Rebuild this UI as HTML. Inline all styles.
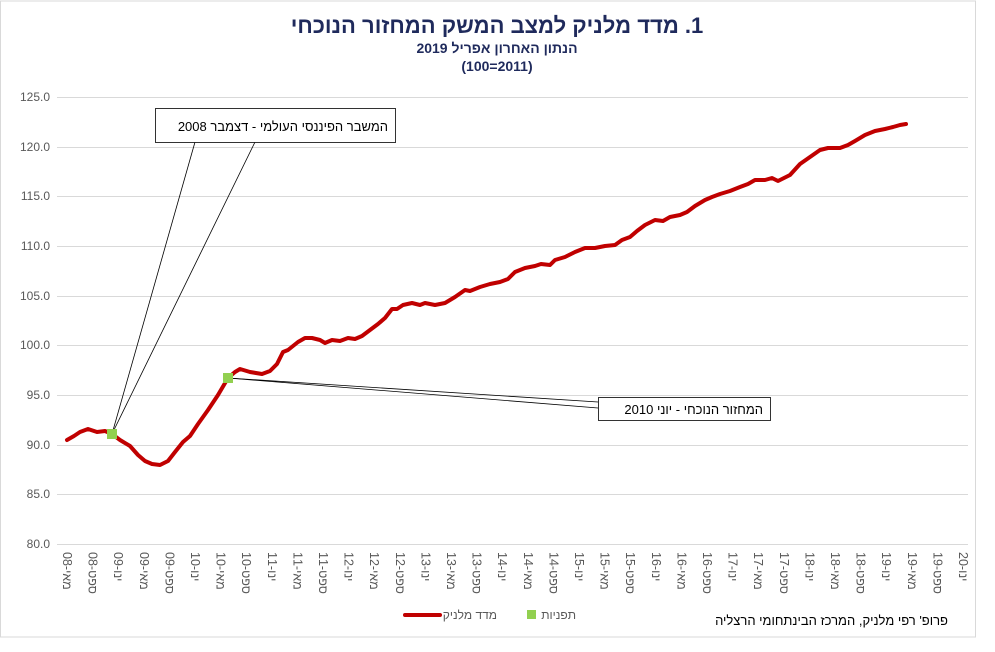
<!DOCTYPE html>
<html><head><meta charset="utf-8"><style>
html,body{margin:0;padding:0;background:#fff;}
svg{display:block;font-family:"Liberation Sans","Noto Sans CJK SC",sans-serif;}
</style></head><body>
<svg width="995" height="652" viewBox="0 0 995 652" xmlns="http://www.w3.org/2000/svg">
<rect x="0.5" y="1" width="975" height="636" fill="#fff" stroke="#d9d9d9"/>
<text x="497" y="33" text-anchor="middle" font-size="22" font-weight="bold" fill="#1f2a5c" direction="rtl">1. מדד מלניק למצב המשק המחזור הנוכחי</text>
<text x="497" y="53" text-anchor="middle" font-size="14" font-weight="bold" fill="#1f2a5c" direction="rtl">הנתון האחרון אפריל 2019</text>
<text x="497" y="71" text-anchor="middle" font-size="14" font-weight="bold" fill="#1f2a5c">(100=2011)</text>
<g stroke="#d9d9d9" stroke-width="1">
<line x1="57" x2="968" y1="97.5" y2="97.5"/><line x1="57" x2="968" y1="147.5" y2="147.5"/>
<line x1="57" x2="968" y1="196.5" y2="196.5"/><line x1="57" x2="968" y1="246.5" y2="246.5"/>
<line x1="57" x2="968" y1="296.5" y2="296.5"/><line x1="57" x2="968" y1="345.5" y2="345.5"/>
<line x1="57" x2="968" y1="395.5" y2="395.5"/><line x1="57" x2="968" y1="445.5" y2="445.5"/>
<line x1="57" x2="968" y1="494.5" y2="494.5"/><line x1="57" x2="968" y1="544.5" y2="544.5"/>
</g>
<g font-size="12" fill="#595959" text-anchor="end">
<text x="50" y="101">125.0</text><text x="50" y="151">120.0</text><text x="50" y="200">115.0</text>
<text x="50" y="250">110.0</text><text x="50" y="300">105.0</text><text x="50" y="349">100.0</text>
<text x="50" y="399">95.0</text><text x="50" y="449">90.0</text><text x="50" y="498">85.0</text>
<text x="50" y="548">80.0</text>
</g>
<g font-size="12.5" fill="#595959" direction="rtl" text-anchor="end">
<text transform="translate(63,552) rotate(90)">מאי-08</text>
<text transform="translate(88.6,552) rotate(90)">ספט-08</text>
<text transform="translate(114.2,552) rotate(90)">ינו-09</text>
<text transform="translate(139.8,552) rotate(90)">מאי-09</text>
<text transform="translate(165.4,552) rotate(90)">ספט-09</text>
<text transform="translate(191,552) rotate(90)">ינו-10</text>
<text transform="translate(216.6,552) rotate(90)">מאי-10</text>
<text transform="translate(242.2,552) rotate(90)">ספט-10</text>
<text transform="translate(267.8,552) rotate(90)">ינו-11</text>
<text transform="translate(293.4,552) rotate(90)">מאי-11</text>
<text transform="translate(319,552) rotate(90)">ספט-11</text>
<text transform="translate(344.6,552) rotate(90)">ינו-12</text>
<text transform="translate(370.2,552) rotate(90)">מאי-12</text>
<text transform="translate(395.8,552) rotate(90)">ספט-12</text>
<text transform="translate(421.4,552) rotate(90)">ינו-13</text>
<text transform="translate(447,552) rotate(90)">מאי-13</text>
<text transform="translate(472.6,552) rotate(90)">ספט-13</text>
<text transform="translate(498.2,552) rotate(90)">ינו-14</text>
<text transform="translate(523.8,552) rotate(90)">מאי-14</text>
<text transform="translate(549.4,552) rotate(90)">ספט-14</text>
<text transform="translate(575,552) rotate(90)">ינו-15</text>
<text transform="translate(600.6,552) rotate(90)">מאי-15</text>
<text transform="translate(626.2,552) rotate(90)">ספט-15</text>
<text transform="translate(651.8,552) rotate(90)">ינו-16</text>
<text transform="translate(677.4,552) rotate(90)">מאי-16</text>
<text transform="translate(703,552) rotate(90)">ספט-16</text>
<text transform="translate(728.6,552) rotate(90)">ינו-17</text>
<text transform="translate(754.2,552) rotate(90)">מאי-17</text>
<text transform="translate(779.8,552) rotate(90)">ספט-17</text>
<text transform="translate(805.4,552) rotate(90)">ינו-18</text>
<text transform="translate(831,552) rotate(90)">מאי-18</text>
<text transform="translate(856.6,552) rotate(90)">ספט-18</text>
<text transform="translate(882.2,552) rotate(90)">ינו-19</text>
<text transform="translate(907.8,552) rotate(90)">מאי-19</text>
<text transform="translate(933.4,552) rotate(90)">ספט-19</text>
<text transform="translate(959,552) rotate(90)">ינו-20</text>
</g>
<g stroke="#000" stroke-width="0.8" fill="none">
<line x1="195" y1="142" x2="112" y2="434"/><line x1="255" y1="142" x2="112" y2="434"/>
<line x1="228" y1="378" x2="598" y2="402"/><line x1="228" y1="378" x2="598" y2="408"/>
</g>
<rect x="155.5" y="108.5" width="240" height="34" fill="#fff" stroke="#000" stroke-width="0.8"/>
<text x="388" y="131" text-anchor="start" font-size="13" direction="rtl">המשבר הפיננסי העולמי - דצמבר 2008</text>
<rect x="598.5" y="397.5" width="172" height="23" fill="#fff" stroke="#000" stroke-width="0.8"/>
<text x="763" y="414" text-anchor="start" font-size="13" direction="rtl">המחזור הנוכחי - יוני 2010</text>
<polyline fill="none" stroke="#c00000" stroke-width="4" stroke-linejoin="round" stroke-linecap="round" points="67,440 74,436 80,432 88,429 97,432 105,431 112,434 120,440 130,446 138,455 145,461 152,464 160,465 168,461 175,452 183,442 190,436 198,424 208,410 218,395 228,378 235,372 240,369 250,372 262,374 270,371 277,364 283,352 288,350 293,346 298,342 305,338 312,338 320,340 325,343 332,340 340,341 348,338 355,339 362,336 370,330 378,324 385,318 392,309 397,309 403,305 412,303 420,305 425,303 435,305 445,303 455,297 465,290 470,291 480,287 490,284 500,282 508,279 515,272 525,268 535,266 541,264 550,265 555,260 565,257 575,252 585,248 595,248 605,246 615,245 622,240 630,237 637,231 645,225 655,220 663,221 670,217 680,215 687,212 695,206 705,200 712,197 720,194 730,191 740,187 748,184 755,180 765,180 772,178 778,181 790,175 800,164 810,157 820,150 828,148 840,148 848,145 855,141 865,135 875,131 885,129 893,127 900,125 906,124"/>
<rect x="107" y="429" width="10" height="10" fill="#92d050"/>
<rect x="223" y="373" width="10" height="10" fill="#92d050"/>
<line x1="405" y1="615" x2="440" y2="615" stroke="#c00000" stroke-width="4" stroke-linecap="round"/>
<text x="497" y="619" text-anchor="start" font-size="12" fill="#595959" direction="rtl">מדד מלניק</text>
<rect x="527" y="610" width="9" height="9" fill="#92d050"/>
<text x="576" y="619" text-anchor="start" font-size="12" fill="#595959" direction="rtl">תפניות</text>
<text x="948" y="625" text-anchor="start" font-size="13" fill="#000" direction="rtl">פרופ' רפי מלניק, המרכז הבינתחומי הרצליה</text>
</svg>
</body></html>
